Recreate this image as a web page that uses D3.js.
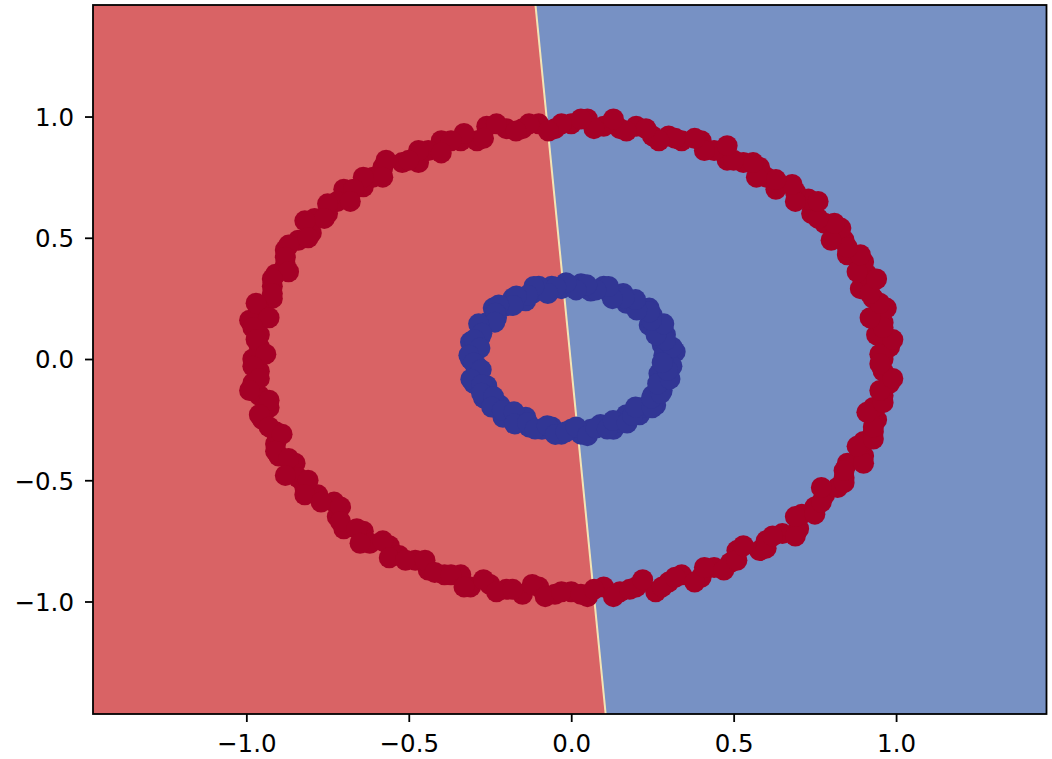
<!DOCTYPE html>
<html>
<head>
<meta charset="utf-8">
<script src="https://cdnjs.cloudflare.com/ajax/libs/d3/7.8.5/d3.min.js"></script>
<style>
  body { margin: 0; background: #fff; }
  .tick text { font-family: "DejaVu Sans", sans-serif; font-size: 24.5px; fill: #000; }
</style>
</head>
<body>
<div id="chart"></div>
<script>
// ticks
var xTicks = [-1.0, -0.5, 0.0, 0.5, 1.0];
var yTicks = [-1.0, -0.5, 0.0, 0.5, 1.0];

// decision boundary (data coords, top and bottom of the grid)
var boundary = [[-0.110, 1.46], [0.106, -1.464]];

// outer ring, class 0
var outerPoints = [
  [0.96,0.00],[0.98,0.05],[0.94,0.10],[0.96,0.15],[0.97,0.21],[0.93,0.25],[0.89,0.29],[0.91,0.35],[0.90,0.40],[0.85,0.43],
  [0.84,0.49],[0.83,0.54],[0.78,0.56],[0.74,0.60],[0.73,0.66],[0.69,0.69],[0.63,0.70],[0.60,0.75],[0.58,0.79],[0.53,0.81],
  [0.48,0.82],[0.44,0.86],[0.40,0.90],[0.34,0.90],[0.30,0.92],[0.25,0.92],[0.20,0.96],[0.15,0.95],[0.10,0.96],[0.05,0.99],
  [0.00,0.97],[-0.05,0.95],[-0.10,0.97],[-0.15,0.95],[-0.20,0.95],[-0.26,0.96],[-0.29,0.90],[-0.34,0.90],[-0.40,0.90],[-0.44,0.86],
  [-0.47,0.81],[-0.52,0.81],[-0.58,0.79],[-0.61,0.75],[-0.64,0.71],[-0.70,0.70],[-0.72,0.65],[-0.75,0.60],[-0.79,0.58],[-0.80,0.52],
  [-0.84,0.49],[-0.88,0.45],[-0.88,0.39],[-0.91,0.35],[-0.92,0.30],[-0.92,0.25],[-0.96,0.20],[-0.99,0.16],[-0.96,0.10],[-0.96,0.05],
  [-0.98,0.00],[-0.96,-0.05],[-0.98,-0.10],[-0.96,-0.15],[-0.93,-0.20],[-0.95,-0.25],[-0.91,-0.30],[-0.91,-0.35],[-0.90,-0.40],[-0.85,-0.43],
  [-0.84,-0.49],[-0.82,-0.53],[-0.78,-0.56],[-0.73,-0.59],[-0.72,-0.65],[-0.70,-0.70],[-0.64,-0.71],[-0.62,-0.76],[-0.56,-0.77],[-0.53,-0.81],
  [-0.48,-0.83],[-0.44,-0.87],[-0.39,-0.89],[-0.34,-0.89],[-0.31,-0.94],[-0.25,-0.93],[-0.20,-0.95],[-0.15,-0.97],[-0.10,-0.94],[-0.05,-0.97],
  [0.00,-0.96],[0.05,-0.98],[0.10,-0.94],[0.15,-0.96],[0.20,-0.94],[0.26,-0.96],[0.30,-0.92],[0.34,-0.89],[0.40,-0.90],[0.44,-0.86],
  [0.49,-0.84],[0.51,-0.79],[0.58,-0.79],[0.60,-0.75],[0.65,-0.72],[0.70,-0.70],[0.71,-0.64],[0.75,-0.61],[0.78,-0.56],[0.82,-0.53],
  [0.84,-0.49],[0.85,-0.43],[0.90,-0.40],[0.90,-0.34],[0.93,-0.30],[0.94,-0.25],[0.93,-0.20],[0.96,-0.15],[0.98,-0.10],[0.96,-0.05],
  [0.95,0.02],[0.99,0.08],[0.96,0.13],[0.92,0.17],[0.95,0.23],[0.92,0.27],[0.94,0.33],[0.88,0.36],[0.89,0.43],[0.85,0.46],
  [0.80,0.49],[0.81,0.56],[0.76,0.58],[0.76,0.65],[0.69,0.65],[0.68,0.72],[0.63,0.74],[0.57,0.75],[0.56,0.81],[0.50,0.82],
  [0.48,0.88],[0.41,0.86],[0.38,0.91],[0.32,0.91],[0.27,0.90],[0.23,0.95],[0.17,0.94],[0.13,0.99],[0.07,0.95],[0.03,0.99],
  [-0.03,0.97],[-0.07,0.94],[-0.13,0.97],[-0.17,0.94],[-0.23,0.97],[-0.27,0.91],[-0.33,0.93],[-0.37,0.90],[-0.40,0.85],[-0.47,0.86],
  [-0.50,0.82],[-0.57,0.82],[-0.58,0.75],[-0.64,0.75],[-0.67,0.70],[-0.68,0.65],[-0.75,0.64],[-0.76,0.58],[-0.82,0.57],[-0.81,0.50],
  [-0.87,0.47],[-0.88,0.42],[-0.87,0.36],[-0.92,0.33],[-0.92,0.27],[-0.97,0.23],[-0.93,0.17],[-0.98,0.13],[-0.97,0.08],[-0.94,0.02],
  [-0.98,-0.03],[-0.96,-0.08],[-0.99,-0.13],[-0.93,-0.17],[-0.96,-0.23],[-0.93,-0.28],[-0.89,-0.31],[-0.91,-0.38],[-0.87,-0.41],[-0.88,-0.48],
  [-0.81,-0.50],[-0.82,-0.56],[-0.77,-0.59],[-0.71,-0.61],[-0.71,-0.67],[-0.66,-0.70],[-0.65,-0.76],[-0.58,-0.75],[-0.56,-0.82],[-0.51,-0.83],
  [-0.45,-0.83],[-0.42,-0.88],[-0.37,-0.89],[-0.33,-0.94],[-0.27,-0.91],[-0.23,-0.96],[-0.18,-0.95],[-0.12,-0.93],[-0.08,-0.98],[-0.03,-0.96],
  [0.03,-0.97],[0.07,-0.95],[0.13,-0.98],[0.18,-0.95],[0.22,-0.91],[0.28,-0.94],[0.32,-0.90],[0.38,-0.92],[0.41,-0.86],[0.47,-0.87],
  [0.51,-0.83],[0.53,-0.77],[0.60,-0.78],[0.62,-0.73],[0.69,-0.73],[0.69,-0.65],[0.75,-0.64],[0.77,-0.59],[0.77,-0.53],[0.84,-0.51],
  [0.84,-0.46],[0.90,-0.43],[0.88,-0.36],[0.93,-0.33],[0.93,-0.28],[0.91,-0.22],[0.96,-0.18],[0.95,-0.13],[0.99,-0.08],[0.95,-0.02]
];

// inner ring, class 1
var innerPoints = [
  [0.30,0.00],[0.32,0.03],[0.28,0.06],[0.29,0.10],[0.27,0.12],[0.24,0.14],[0.25,0.18],[0.24,0.21],[0.20,0.22],[0.17,0.23],
  [0.16,0.27],[0.12,0.27],[0.10,0.30],[0.06,0.28],[0.03,0.31],
  [0.00,0.30],[-0.03,0.29],[-0.06,0.30],[-0.10,0.30],[-0.12,0.27],[-0.14,0.24],[-0.18,0.25],[-0.20,0.22],[-0.24,0.21],[-0.23,0.17],
  [-0.26,0.15],[-0.28,0.13],[-0.28,0.09],[-0.31,0.07],[-0.30,0.03],
  [-0.31,0.00],[-0.29,-0.03],[-0.29,-0.06],[-0.30,-0.10],[-0.26,-0.11],[-0.27,-0.16],[-0.24,-0.18],[-0.22,-0.19],[-0.21,-0.24],[-0.18,-0.24],
  [-0.14,-0.24],[-0.13,-0.28],[-0.09,-0.29],[-0.06,-0.28],[-0.03,-0.31],
  [0.00,-0.29],[0.03,-0.31],[0.06,-0.29],[0.09,-0.27],[0.13,-0.29],[0.15,-0.26],[0.17,-0.23],[0.21,-0.23],[0.22,-0.20],[0.26,-0.19],
  [0.25,-0.15],[0.28,-0.13],[0.29,-0.09],[0.27,-0.06],[0.31,-0.03],
  [0.285,0.015],[0.311,0.049],[0.290,0.078],[0.261,0.100],[0.285,0.145],[0.247,0.161],[0.241,0.195],[0.202,0.202],[0.198,0.245],[0.163,0.252],
  [0.127,0.249],[0.115,0.299],[0.076,0.285],[0.048,0.306],[0.015,0.285],
  [-0.016,0.315],[-0.047,0.296],[-0.072,0.270],[-0.115,0.299],[-0.134,0.263],[-0.169,0.260],[-0.179,0.221],[-0.223,0.223],[-0.233,0.189],[-0.235,0.152],
  [-0.285,0.145],[-0.275,0.106],[-0.299,0.080],[-0.281,0.045],[-0.315,0.016],
  [-0.300,-0.016],[-0.277,-0.044],[-0.309,-0.083],[-0.275,-0.106],[-0.276,-0.141],[-0.239,-0.155],[-0.245,-0.198],[-0.212,-0.212],[-0.176,-0.218],[-0.174,-0.268],
  [-0.134,-0.263],[-0.111,-0.289],[-0.074,-0.275],[-0.049,-0.311],[-0.016,-0.300],
  [0.015,-0.280],[0.050,-0.316],[0.076,-0.285],[0.111,-0.289],[0.129,-0.254],[0.172,-0.264],[0.189,-0.233],[0.198,-0.198],[0.249,-0.201],[0.247,-0.161],
  [0.276,-0.141],[0.266,-0.102],[0.304,-0.082],[0.296,-0.047],[0.280,-0.015]
];

var svgWidth = 1052;
var svgHeight = 759;

var margin = {
  top: 5,
  right: 5.5,
  bottom: 45,
  left: 93
};

var chartWidth = svgWidth - margin.left - margin.right;
var chartHeight = svgHeight - margin.top - margin.bottom;

var svg = d3.select("#chart")
  .append("svg")
  .attr("width", svgWidth)
  .attr("height", svgHeight);

var chartGroup = svg.append("g")
  .attr("transform", `translate(${margin.left}, ${margin.top})`);

var xScale = d3.scaleLinear()
  .domain([-1.472, 1.463])
  .range([0, chartWidth]);

var yScale = d3.scaleLinear()
  .domain([-1.464, 1.46])
  .range([chartHeight, 0]);

var xMin = xScale.domain()[0], xMax = xScale.domain()[1];
var yMin = yScale.domain()[0], yMax = yScale.domain()[1];

// background regions
var leftRegion = [[xMin, yMax], boundary[0], boundary[1], [xMin, yMin]];
var rightRegion = [boundary[0], [xMax, yMax], [xMax, yMin], boundary[1]];

var line = d3.line()
  .x(d => xScale(d[0]))
  .y(d => yScale(d[1]));

chartGroup.append("path")
  .attr("d", line(leftRegion) + "Z")
  .attr("fill", "#d96365");

chartGroup.append("path")
  .attr("d", line(rightRegion) + "Z")
  .attr("fill", "#7791c4");

chartGroup.append("path")
  .attr("d", line(boundary))
  .attr("fill", "none")
  .attr("stroke", "#f3e4b4")
  .attr("stroke-width", 2);

// points
chartGroup.selectAll("circle.outer")
  .data(outerPoints)
  .enter()
  .append("circle")
  .attr("class", "outer")
  .attr("cx", d => xScale(d[0]))
  .attr("cy", d => yScale(d[1]))
  .attr("r", 10.5)
  .attr("fill", "#a50026");

chartGroup.selectAll("circle.inner")
  .data(innerPoints)
  .enter()
  .append("circle")
  .attr("class", "inner")
  .attr("cx", d => xScale(d[0]))
  .attr("cy", d => yScale(d[1]))
  .attr("r", 10.5)
  .attr("fill", "#313695");

// axes
var xAxis = d3.axisBottom(xScale)
  .tickValues(xTicks)
  .tickFormat(d3.format(".1f"))
  .tickSizeOuter(0)
  .tickSize(8)
  .tickPadding(8);

var yAxis = d3.axisLeft(yScale)
  .tickValues(yTicks)
  .tickFormat(d3.format(".1f"))
  .tickSizeOuter(0)
  .tickSize(8)
  .tickPadding(11);

var gx = chartGroup.append("g")
  .attr("transform", `translate(0, ${chartHeight})`)
  .call(xAxis);

var gy = chartGroup.append("g")
  .call(yAxis);

[gx, gy].forEach(function (g) {
  g.select(".domain").remove();
  g.selectAll(".tick line").attr("stroke", "#000").attr("stroke-width", 1.8);
});

gx.selectAll(".tick text").attr("dy", "0.9em");
gy.selectAll(".tick text").attr("dy", "0.36em");

// spines
chartGroup.append("rect")
  .attr("width", chartWidth)
  .attr("height", chartHeight)
  .attr("fill", "none")
  .attr("stroke", "#000")
  .attr("stroke-width", 1.8);
</script>
</body>
</html>
